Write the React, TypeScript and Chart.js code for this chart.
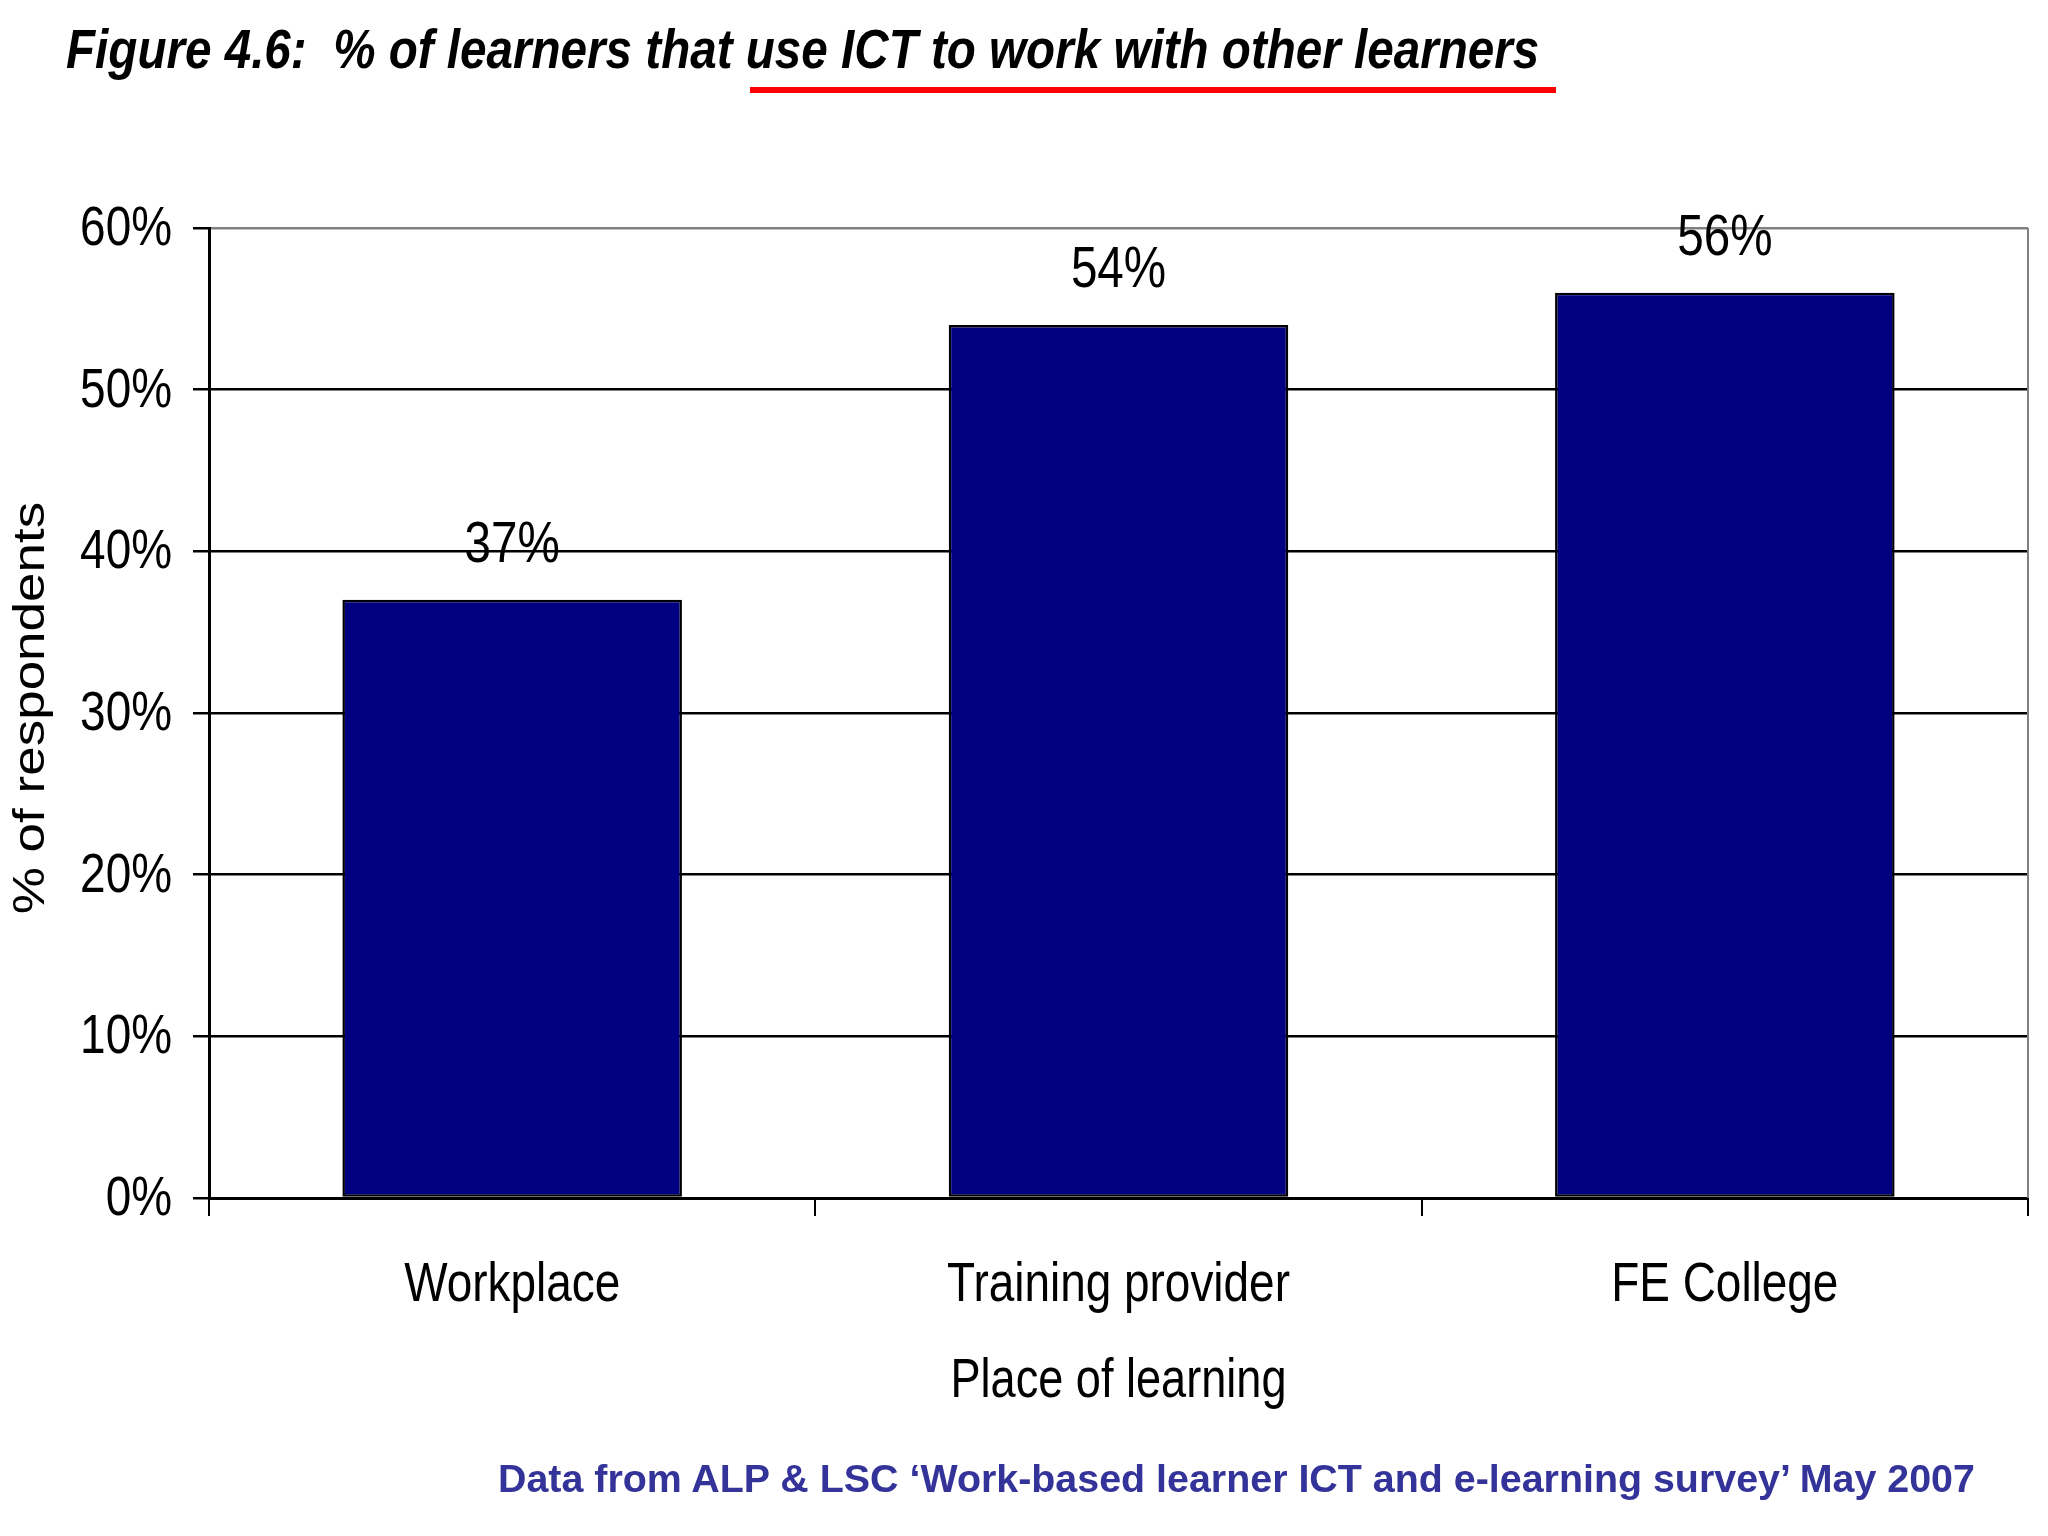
import { useEffect, useRef } from 'react'
import { Chart, registerables } from 'chart.js'

Chart.register(...registerables)

// data
const categories = ['Workplace', 'Training provider', 'FE College']
const shares = [37, 54, 56]
const yTicks = [0, 10, 20, 30, 40, 50, 60]
const xTitle = 'Place of learning'
const yTitle = '% of respondents'

const SANS = "'Liberation Sans', Arial, sans-serif"
// the source image is squeezed horizontally, so text is drawn narrowed
const SQUEEZE = 0.82

function drawNarrow(
  ctx: CanvasRenderingContext2D,
  text: string,
  x: number,
  y: number,
  align: CanvasTextAlign,
  size: number,
) {
  ctx.save()
  ctx.translate(x, y)
  ctx.scale(SQUEEZE, 1)
  ctx.font = `${size}px ${SANS}`
  ctx.fillStyle = '#000'
  ctx.textAlign = align
  ctx.textBaseline = 'alphabetic'
  ctx.fillText(text, 0, 0)
  ctx.restore()
}

// tick labels, axis titles and value labels
const narrowLabels = {
  id: 'narrowLabels',
  afterDraw(chart: any) {
    const { ctx, chartArea: a, scales } = chart
    const yScale = scales.y
    const xScale = scales.x

    yTicks.forEach((v) => {
      drawNarrow(ctx, `${v}%`, a.left - 37, yScale.getPixelForValue(v) + 17, 'right', 56)
    })
    categories.forEach((c, i) => {
      drawNarrow(ctx, c, xScale.getPixelForValue(i), a.bottom + 103, 'center', 56)
    })
    drawNarrow(ctx, xTitle, (a.left + a.right) / 2, a.bottom + 199, 'center', 55)

    const meta = chart.getDatasetMeta(0)
    meta.data.forEach((bar: any, i: number) => {
      drawNarrow(ctx, `${shares[i]}%`, bar.x, bar.y - 38, 'center', 58)
    })

    // rotated y title, squeezed across the glyphs
    ctx.save()
    ctx.translate(43.5, (a.top + a.bottom) / 2 - 5)
    ctx.rotate(-Math.PI / 2)
    ctx.scale(1, SQUEEZE)
    ctx.font = `53px ${SANS}`
    ctx.fillStyle = '#000'
    ctx.textAlign = 'center'
    ctx.textBaseline = 'alphabetic'
    ctx.fillText(yTitle, 0, 0)
    ctx.restore()
  },
}

// grey right edge of the plot area
const plotFrame = {
  id: 'plotFrame',
  beforeDatasetsDraw(chart: any) {
    const { ctx, chartArea: a } = chart
    ctx.save()
    ctx.strokeStyle = '#808080'
    ctx.lineWidth = 2
    ctx.beginPath()
    ctx.moveTo(a.right, a.top)
    ctx.lineTo(a.right, a.bottom)
    ctx.stroke()
    ctx.restore()
  },
}

function BarChart() {
  const canvasRef = useRef<HTMLCanvasElement>(null)
  const chartRef = useRef<Chart | null>(null)

  useEffect(() => {
    if (!canvasRef.current) return
    const ctx = canvasRef.current.getContext('2d')
    if (!ctx) return

    chartRef.current?.destroy()
    chartRef.current = new Chart(ctx, {
      type: 'bar',
      data: {
        labels: categories,
        datasets: [
          {
            label: yTitle,
            data: shares,
            backgroundColor: '#000080',
            borderColor: '#000000',
            borderWidth: 2.5,
            borderSkipped: false,
            barPercentage: 1,
            categoryPercentage: 0.56,
          },
        ],
      },
      options: {
        responsive: false,
        animation: false,
        devicePixelRatio: 1,
        layout: { padding: { left: 0, top: 228, right: 20, bottom: 123 } },
        plugins: {
          legend: { display: false },
          tooltip: { enabled: false },
        },
        scales: {
          x: {
            afterFit: (s: any) => {
              s.height = 215
            },
            grid: {
              offset: true,
              drawOnChartArea: false,
              tickLength: 18,
              color: '#000',
              lineWidth: 2,
            },
            border: { color: '#000', width: 3 },
            ticks: { display: false },
            title: { display: false },
          },
          y: {
            min: 0,
            max: 60,
            afterFit: (s: any) => {
              s.width = 209
            },
            afterBuildTicks: (s: any) => {
              s.ticks = yTicks.map((v) => ({ value: v }))
            },
            grid: {
              color: (c: any) => (c.tick && c.tick.value === 60 ? '#808080' : '#000'),
              tickColor: '#000',
              lineWidth: 2.5,
              tickLength: 16,
            },
            border: { color: '#000', width: 3 },
            ticks: { display: false },
            title: { display: false },
          },
        },
      },
      plugins: [plotFrame, narrowLabels],
    } as any)

    return () => {
      chartRef.current?.destroy()
      chartRef.current = null
    }
  }, [])

  return <canvas ref={canvasRef} width={2048} height={1536} style={{ display: 'block' }} />
}

export default function App() {
  return (
    <div style={{ position: 'absolute', left: 0, top: 0, width: 2048, height: 1536, background: '#fff' }}>
      <BarChart />
      <div
        style={{
          position: 'absolute',
          left: 66,
          top: 21,
          fontFamily: SANS,
          fontWeight: 'bold',
          fontStyle: 'italic',
          fontSize: 56,
          lineHeight: '56px',
          color: '#000',
          whiteSpace: 'nowrap',
          transform: 'scaleX(0.85)',
          transformOrigin: 'left top',
        }}
      >
        Figure 4.6:&nbsp; % of learners that use ICT to work with other learners
      </div>
      <div style={{ position: 'absolute', left: 750, top: 87, width: 806, height: 6, background: '#ff0000' }} />
      <div
        style={{
          position: 'absolute',
          left: 498,
          top: 1458,
          fontFamily: SANS,
          fontWeight: 'bold',
          fontSize: 39.4,
          lineHeight: '40px',
          color: '#333399',
          whiteSpace: 'nowrap',
        }}
      >
        Data from ALP &amp; LSC ‘Work-based learner ICT and e-learning survey’ May 2007
      </div>
    </div>
  )
}
